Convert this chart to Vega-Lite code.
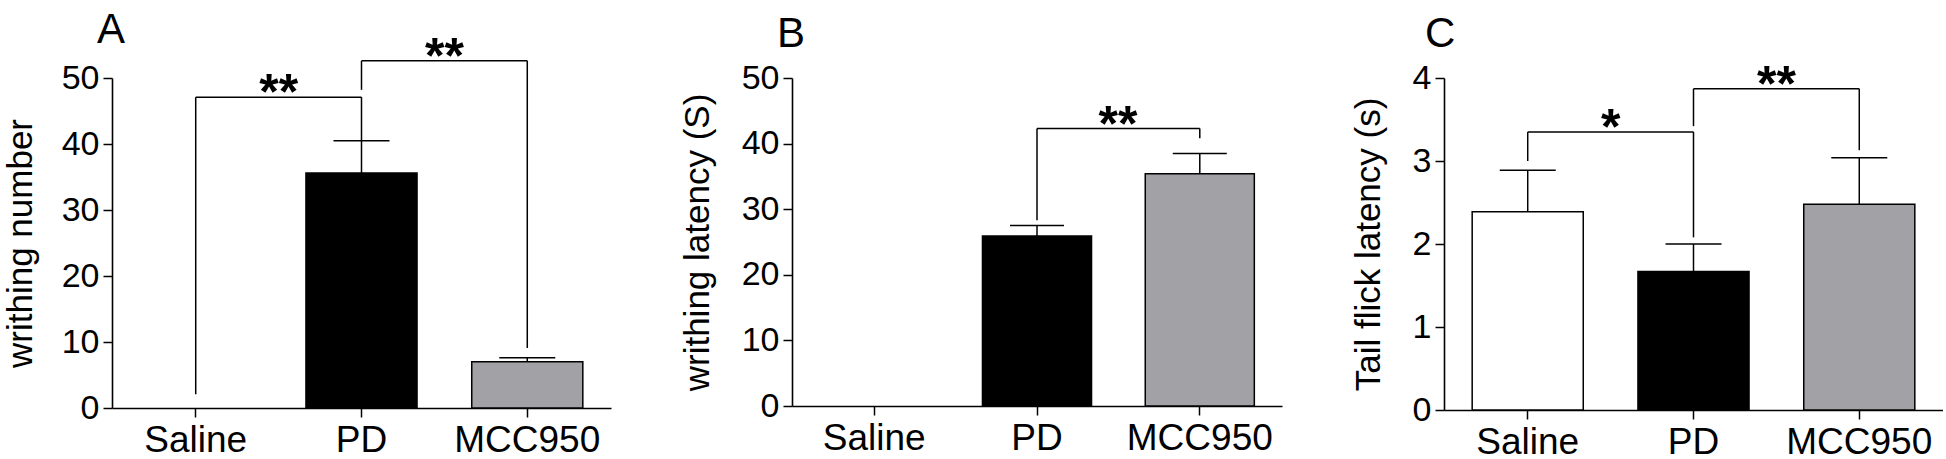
{
  "$schema": "https://vega.github.io/schema/vega-lite/v6.json",
  "background": "white",
  "padding": {"left": 3, "top": 8, "right": 0, "bottom": 0},
  "spacing": 69,
  "config": {
    "font": "Liberation Sans",
    "view": {"stroke": null},
    "axis": {"domainColor": "black", "domainWidth": 1.6, "tickColor": "black", "tickWidth": 1.5, "tickSize": 9, "labelFontSize": 34, "labelColor": "black", "titleFontSize": 35, "titleFontWeight": "normal", "titleColor": "black", "grid": false, "labelPadding": 4},
    "axisX": {"labelFontSize": 37, "labelPadding": 5},
    "title": {"fontSize": 42, "fontWeight": "normal", "anchor": "start", "frame": "group", "color": "black"}
  },
  "resolve": {"scale": {"x": "independent", "y": "independent"}, "axis": {"x": "independent", "y": "independent"}},
  "datasets": {
    "barsA": [{"g": "Saline", "mean": 0, "upper": 0}, {"g": "PD", "mean": 35.6, "upper": 40.5}, {"g": "MCC950", "mean": 7.0, "upper": 7.6}],
    "segA": [
      {"g": "Saline", "g2": "PD", "y1": 47.1, "y2": 47.1},
      {"g": "Saline", "g2": "Saline", "y1": 47.1, "y2": 2.1},
      {"g": "PD", "g2": "PD", "y1": 47.1, "y2": 40.5},
      {"g": "PD", "g2": "MCC950", "y1": 52.6, "y2": 52.6},
      {"g": "PD", "g2": "PD", "y1": 52.6, "y2": 48.2},
      {"g": "MCC950", "g2": "MCC950", "y1": 52.6, "y2": 9.1}
    ],
    "starsA": [{"g": "Saline", "y": 47.1, "label": "**"}, {"g": "PD", "y": 52.6, "label": "**"}],
    "barsB": [{"g": "Saline", "mean": 0, "upper": 0}, {"g": "PD", "mean": 25.9, "upper": 27.5}, {"g": "MCC950", "mean": 35.4, "upper": 38.5}],
    "segB": [
      {"g": "PD", "g2": "MCC950", "y1": 42.3, "y2": 42.3},
      {"g": "PD", "g2": "PD", "y1": 42.3, "y2": 28.3},
      {"g": "MCC950", "g2": "MCC950", "y1": 42.3, "y2": 40.8}
    ],
    "starsB": [{"g": "PD", "y": 42.3, "label": "**"}],
    "barsC": [{"g": "Saline", "mean": 2.39, "upper": 2.89}, {"g": "PD", "mean": 1.67, "upper": 2.0}, {"g": "MCC950", "mean": 2.48, "upper": 3.04}],
    "segC": [
      {"g": "Saline", "g2": "PD", "y1": 3.35, "y2": 3.35},
      {"g": "Saline", "g2": "Saline", "y1": 3.35, "y2": 3.0},
      {"g": "PD", "g2": "PD", "y1": 3.35, "y2": 2.08},
      {"g": "PD", "g2": "MCC950", "y1": 3.87, "y2": 3.87},
      {"g": "PD", "g2": "PD", "y1": 3.87, "y2": 3.42},
      {"g": "MCC950", "g2": "MCC950", "y1": 3.87, "y2": 3.13}
    ],
    "starsC": [{"g": "Saline", "y": 3.35, "label": "*"}, {"g": "PD", "y": 3.87, "label": "**"}]
  },
  "hconcat": [
    {
      "title": {"text": "A", "dx": -15, "offset": -19},
      "width": 499, "height": 330,
      "encoding": {
        "x": {"field": "g", "type": "nominal", "title": null, "scale": {"domain": ["Saline", "PD", "MCC950"], "paddingInner": 0.33, "paddingOuter": 0.17}, "axis": {"labelAngle": 0}}
      },
      "layer": [
        {"data": {"name": "barsA"}, "transform": [{"filter": "datum.mean > 0"}], "mark": {"type": "bar", "stroke": "black", "strokeWidth": 1.5},
         "encoding": {
           "y": {"field": "mean", "type": "quantitative", "title": "writhing number", "scale": {"domain": [0, 50]}, "axis": {"values": [0, 10, 20, 30, 40, 50], "titlePadding": 23}},
           "fill": {"field": "g", "type": "nominal", "scale": {"domain": ["Saline", "PD", "MCC950"], "range": ["white", "black", "#a2a2a6"]}, "legend": null}
         }},
        {"data": {"name": "barsA"}, "transform": [{"filter": "datum.upper > datum.mean"}], "mark": {"type": "rule", "color": "black", "strokeWidth": 1.5},
         "encoding": {"y": {"field": "mean", "type": "quantitative", "title": "writhing number", "scale": {"domain": [0, 50]}}, "y2": {"field": "upper"}}},
        {"data": {"name": "barsA"}, "transform": [{"filter": "datum.upper > datum.mean"}], "mark": {"type": "tick", "orient": "horizontal", "size": 56, "thickness": 1.5, "color": "black", "opacity": 1},
         "encoding": {"y": {"field": "upper", "type": "quantitative", "title": "writhing number", "scale": {"domain": [0, 50]}}}},
        {"data": {"name": "segA"}, "mark": {"type": "rule", "color": "black", "strokeWidth": 1.5},
         "encoding": {"x2": {"field": "g2"}, "y": {"field": "y1", "type": "quantitative", "title": "writhing number", "scale": {"domain": [0, 50]}}, "y2": {"field": "y2"}}},
        {"data": {"name": "starsA"}, "mark": {"type": "text", "fontSize": 50, "fontWeight": "bold", "dx": 83, "dy": 12, "baseline": "alphabetic", "color": "black"},
         "encoding": {"y": {"field": "y", "type": "quantitative", "title": "writhing number", "scale": {"domain": [0, 50]}}, "text": {"field": "label"}}}
      ]
    },
    {
      "title": {"text": "B", "dx": -15, "offset": 5},
      "width": 490, "height": 328,
      "encoding": {
        "x": {"field": "g", "type": "nominal", "title": null, "scale": {"domain": ["Saline", "PD", "MCC950"], "paddingInner": 0.33, "paddingOuter": 0.17}, "axis": {"labelAngle": 0}}
      },
      "layer": [
        {"data": {"name": "barsB"}, "transform": [{"filter": "datum.mean > 0"}], "mark": {"type": "bar", "stroke": "black", "strokeWidth": 1.5},
         "encoding": {
           "y": {"field": "mean", "type": "quantitative", "title": "writhing latency (S)", "scale": {"domain": [0, 50]}, "axis": {"values": [0, 10, 20, 30, 40, 50], "titlePadding": 26}},
           "fill": {"field": "g", "type": "nominal", "scale": {"domain": ["Saline", "PD", "MCC950"], "range": ["white", "black", "#a2a2a6"]}, "legend": null}
         }},
        {"data": {"name": "barsB"}, "transform": [{"filter": "datum.upper > datum.mean"}], "mark": {"type": "rule", "color": "black", "strokeWidth": 1.5},
         "encoding": {"y": {"field": "mean", "type": "quantitative", "title": "writhing latency (S)", "scale": {"domain": [0, 50]}}, "y2": {"field": "upper"}}},
        {"data": {"name": "barsB"}, "transform": [{"filter": "datum.upper > datum.mean"}], "mark": {"type": "tick", "orient": "horizontal", "size": 54, "thickness": 1.5, "color": "black", "opacity": 1},
         "encoding": {"y": {"field": "upper", "type": "quantitative", "title": "writhing latency (S)", "scale": {"domain": [0, 50]}}}},
        {"data": {"name": "segB"}, "mark": {"type": "rule", "color": "black", "strokeWidth": 1.5},
         "encoding": {"x2": {"field": "g2"}, "y": {"field": "y1", "type": "quantitative", "title": "writhing latency (S)", "scale": {"domain": [0, 50]}}, "y2": {"field": "y2"}}},
        {"data": {"name": "starsB"}, "mark": {"type": "text", "fontSize": 50, "fontWeight": "bold", "dx": 81, "dy": 12, "baseline": "alphabetic", "color": "black"},
         "encoding": {"y": {"field": "y", "type": "quantitative", "title": "writhing latency (S)", "scale": {"domain": [0, 50]}}, "text": {"field": "label"}}}
      ]
    },
    {
      "title": {"text": "C", "dx": -19, "offset": 5},
      "width": 499, "height": 332,
      "encoding": {
        "x": {"field": "g", "type": "nominal", "title": null, "scale": {"domain": ["Saline", "PD", "MCC950"], "paddingInner": 0.33, "paddingOuter": 0.17}, "axis": {"labelAngle": 0}}
      },
      "layer": [
        {"data": {"name": "barsC"}, "transform": [{"filter": "datum.mean > 0"}], "mark": {"type": "bar", "stroke": "black", "strokeWidth": 1.5},
         "encoding": {
           "y": {"field": "mean", "type": "quantitative", "title": "Tail flick latency (s)", "scale": {"domain": [0, 4]}, "axis": {"values": [0, 1, 2, 3, 4], "format": "d", "titlePadding": 26}},
           "fill": {"field": "g", "type": "nominal", "scale": {"domain": ["Saline", "PD", "MCC950"], "range": ["white", "black", "#a2a2a6"]}, "legend": null}
         }},
        {"data": {"name": "barsC"}, "transform": [{"filter": "datum.upper > datum.mean"}], "mark": {"type": "rule", "color": "black", "strokeWidth": 1.5},
         "encoding": {"y": {"field": "mean", "type": "quantitative", "title": "Tail flick latency (s)", "scale": {"domain": [0, 4]}}, "y2": {"field": "upper"}}},
        {"data": {"name": "barsC"}, "transform": [{"filter": "datum.upper > datum.mean"}], "mark": {"type": "tick", "orient": "horizontal", "size": 56, "thickness": 1.5, "color": "black", "opacity": 1},
         "encoding": {"y": {"field": "upper", "type": "quantitative", "title": "Tail flick latency (s)", "scale": {"domain": [0, 4]}}}},
        {"data": {"name": "segC"}, "mark": {"type": "rule", "color": "black", "strokeWidth": 1.5},
         "encoding": {"x2": {"field": "g2"}, "y": {"field": "y1", "type": "quantitative", "title": "Tail flick latency (s)", "scale": {"domain": [0, 4]}}, "y2": {"field": "y2"}}},
        {"data": {"name": "starsC"}, "mark": {"type": "text", "fontSize": 50, "fontWeight": "bold", "dx": 83, "dy": 12, "baseline": "alphabetic", "color": "black"},
         "encoding": {"y": {"field": "y", "type": "quantitative", "title": "Tail flick latency (s)", "scale": {"domain": [0, 4]}}, "text": {"field": "label"}}}
      ]
    }
  ]
}
